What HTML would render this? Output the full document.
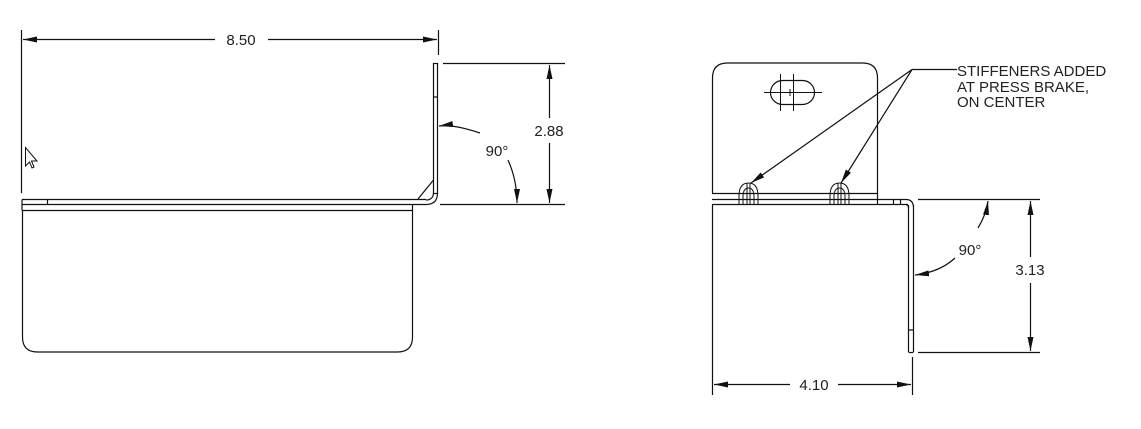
<!DOCTYPE html>
<html><head><meta charset="utf-8"><style>
html,body{margin:0;padding:0;background:#fff;width:1141px;height:429px;overflow:hidden}
text{font-family:"Liberation Sans",Arial,sans-serif;fill:#222}
</style></head><body>
<svg width="1141" height="429" viewBox="0 0 1141 429" xmlns="http://www.w3.org/2000/svg">
<defs>
<marker id="a" viewBox="0 0 14 6" refX="14" refY="3" markerWidth="14" markerHeight="6" orient="auto-start-reverse" markerUnits="userSpaceOnUse"><path d="M0,0 L14,3 L0,6 Z" fill="#111"/></marker>
</defs>
<g stroke="#111" stroke-width="1.2" fill="none">
<line x1="21.5" y1="30" x2="21.5" y2="193"/>
<line x1="438.5" y1="30" x2="438.5" y2="55"/>
<line x1="23" y1="39.5" x2="215" y2="39.5" marker-start="url(#a)"/>
<line x1="268" y1="39.5" x2="437" y2="39.5" marker-end="url(#a)"/>
<rect x="433.5" y="63.5" width="4" height="130"/>
<line x1="433.5" y1="97" x2="437.5" y2="97"/>
<path d="M437.5,193 Q437.5,204 427,204.5"/>
<path d="M433.5,193 Q433,200 426,200"/>
<path d="M433.5,180 L418,199"/>
<line x1="22" y1="199.5" x2="426" y2="199.5"/>
<line x1="22" y1="204.5" x2="427" y2="204.5"/>
<line x1="22" y1="210.5" x2="413" y2="210.5"/>
<line x1="22" y1="199.5" x2="22" y2="210.5"/>
<line x1="47.5" y1="199.5" x2="47.5" y2="204.5"/>
<path d="M22.5,210 L22.5,337 Q22.5,352 37.5,352 L397.5,352 Q412.5,352 412.5,337 L412.5,205"/>
<line x1="443" y1="63.5" x2="565" y2="63.5"/>
<line x1="440" y1="204.5" x2="565" y2="204.5"/>
<line x1="549.5" y1="65" x2="549.5" y2="118" marker-start="url(#a)"/>
<line x1="549.5" y1="143" x2="549.5" y2="203" marker-end="url(#a)"/>
<path d="M480,133 Q453,124 439,126" marker-end="url(#a)"/>
<path d="M508,160 Q517,180 517,203" marker-end="url(#a)"/>
<path d="M712.5,193 L712.5,78 Q712.5,63 727.5,63 L862.5,63 Q877.5,63 877.5,78 L877.5,193"/>
<rect x="770.5" y="80.5" width="44" height="24" rx="12"/>
<line x1="764" y1="92.5" x2="822" y2="92.5" stroke-width="1"/>
<line x1="780.5" y1="74" x2="780.5" y2="111" stroke-width="1"/>
<line x1="793.5" y1="74" x2="793.5" y2="111" stroke-width="1"/>
<line x1="790" y1="89" x2="790" y2="96" stroke-width="1"/>
<line x1="712" y1="193.5" x2="877" y2="193.5"/>
<line x1="712" y1="199.5" x2="906" y2="199.5"/>
<line x1="712" y1="204.5" x2="908" y2="204.5"/>
<line x1="877.5" y1="193" x2="877.5" y2="205"/>
<line x1="893.5" y1="199.5" x2="893.5" y2="204.5"/>
<line x1="900.5" y1="199.5" x2="900.5" y2="204.5"/>
<path d="M906,199.5 Q913,199.5 913.5,207"/>
<path d="M906,204.5 Q908.5,205 908.5,208"/>
<line x1="908.5" y1="205" x2="908.5" y2="352"/>
<line x1="913.5" y1="205" x2="913.5" y2="352"/>
<line x1="908.5" y1="352.5" x2="913.5" y2="352.5"/>
<line x1="908.5" y1="330" x2="913.5" y2="330"/>
<g stroke-width="1">
<path d="M739,205 L739,196 Q739,183 748.5,183 Q758,183 758,196 L758,205"/>
<path d="M743,205 L743,197 Q743,188 748.5,188 Q754,188 754,197 L754,205"/>
<line x1="747" y1="183" x2="747" y2="205"/><line x1="750" y1="183" x2="750" y2="205"/>
<path d="M830,205 L830,196 Q830,183 839.5,183 Q849,183 849,196 L849,205"/>
<path d="M834,205 L834,197 Q834,188 839.5,188 Q845,188 845,197 L845,205"/>
<line x1="838" y1="183" x2="838" y2="205"/><line x1="841" y1="183" x2="841" y2="205"/>
</g>
<line x1="712.5" y1="205" x2="712.5" y2="395"/>
<line x1="912.5" y1="357" x2="912.5" y2="395"/>
<line x1="714" y1="384.5" x2="790" y2="384.5" marker-start="url(#a)"/>
<line x1="838" y1="384.5" x2="911" y2="384.5" marker-end="url(#a)"/>
<line x1="918" y1="199.5" x2="1040" y2="199.5"/>
<line x1="918" y1="352.5" x2="1040" y2="352.5"/>
<line x1="1030.5" y1="201" x2="1030.5" y2="257" marker-start="url(#a)"/>
<line x1="1030.5" y1="283" x2="1030.5" y2="351" marker-end="url(#a)"/>
<path d="M978,228 Q986,215 988,201" marker-end="url(#a)"/>
<path d="M955,258 Q940,272 915,275" marker-end="url(#a)"/>
<line x1="912" y1="69.5" x2="957" y2="69.5"/>
<line x1="912" y1="69.5" x2="751" y2="183" marker-end="url(#a)"/>
<line x1="912" y1="69.5" x2="841" y2="183" marker-end="url(#a)"/>
</g>
<path d="M25.5,147.5 L25.5,166 L29.5,162 L32,168 L34,167 L31.5,161 L37,161 Z" fill="#fff" stroke="#111" stroke-width="1"/>
<g font-size="15">
<text x="241" y="45" text-anchor="middle">8.50</text>
<text x="549" y="136" text-anchor="middle">2.88</text>
<text x="497" y="156" text-anchor="middle">90°</text>
<text x="814" y="390" text-anchor="middle">4.10</text>
<text x="1030" y="275" text-anchor="middle">3.13</text>
<text x="970" y="255" text-anchor="middle">90°</text>
<text x="957" y="76">STIFFENERS ADDED</text>
<text x="957" y="92">AT PRESS BRAKE,</text>
<text x="957" y="107">ON CENTER</text>
</g>
</svg>
</body></html>
